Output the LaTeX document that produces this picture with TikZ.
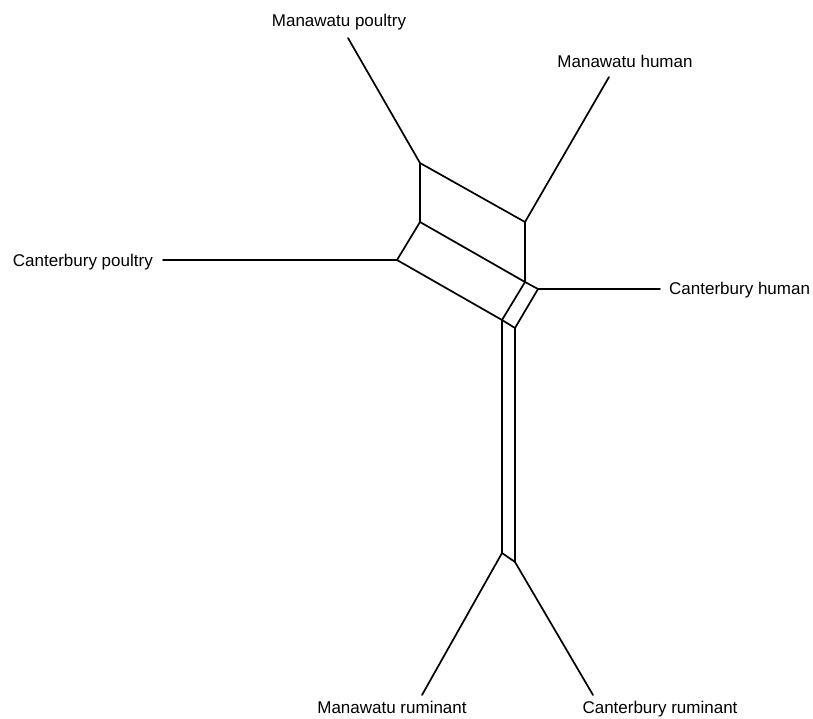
\documentclass[tikz,border=0pt]{standalone}
\usepackage{fontspec}
\setmainfont{Liberation Sans}
\begin{document}
\begin{tikzpicture}[x=1pt,y=-1pt,
  edge/.style={line width=1.7pt, line join=round, line cap=round},
  lab/.style={font=\fontsize{17}{20}\selectfont, inner sep=0pt}]
\useasboundingbox[fill=white] (0,0) rectangle (813,718);
% network vertices
\coordinate (A) at (420,163);
\coordinate (B) at (525,222);
\coordinate (C) at (420,222);
\coordinate (D) at (525,282);
\coordinate (E) at (397,260);
\coordinate (F) at (502,320);
\coordinate (G) at (538,289);
\coordinate (H) at (515,328);
\coordinate (I) at (502,553);
\coordinate (J) at (515,562);
% leaf ends
\coordinate (mpend) at (348,38);
\coordinate (mhend) at (609,77);
\coordinate (cpend) at (163,260);
\coordinate (chend) at (660,289);
\coordinate (mrend) at (422,695);
\coordinate (crend) at (593,695);
% labels
\node[lab, anchor=base] (mp) at (339,26) {Manawatu poultry};
\node[lab, anchor=base] (mh) at (625,67) {Manawatu human};
\node[lab, anchor=base east] (cp) at (153,266) {Canterbury poultry};
\node[lab, anchor=base west] (ch) at (669,294) {Canterbury human};
\node[lab, anchor=base] (mr) at (392,713) {Manawatu ruminant};
\node[lab, anchor=base] (cr) at (660,713) {Canterbury ruminant};
% splits
\draw[edge] (A) -- (B);
\draw[edge] (C) -- (D);
\draw[edge] (E) -- (F);
\draw[edge] (A) -- (C);
\draw[edge] (B) -- (D);
\draw[edge] (C) -- (E);
\draw[edge] (D) -- (F);
\draw[edge] (D) -- (G);
\draw[edge] (F) -- (H);
\draw[edge] (G) -- (H);
\draw[edge] (F) -- (I);
\draw[edge] (H) -- (J);
\draw[edge] (I) -- (J);
% pendant edges
\draw[edge] (A) -- (mpend);
\draw[edge] (B) -- (mhend);
\draw[edge] (E) -- (cpend);
\draw[edge] (G) -- (chend);
\draw[edge] (I) -- (mrend);
\draw[edge] (J) -- (crend);
\end{tikzpicture}
\end{document}
